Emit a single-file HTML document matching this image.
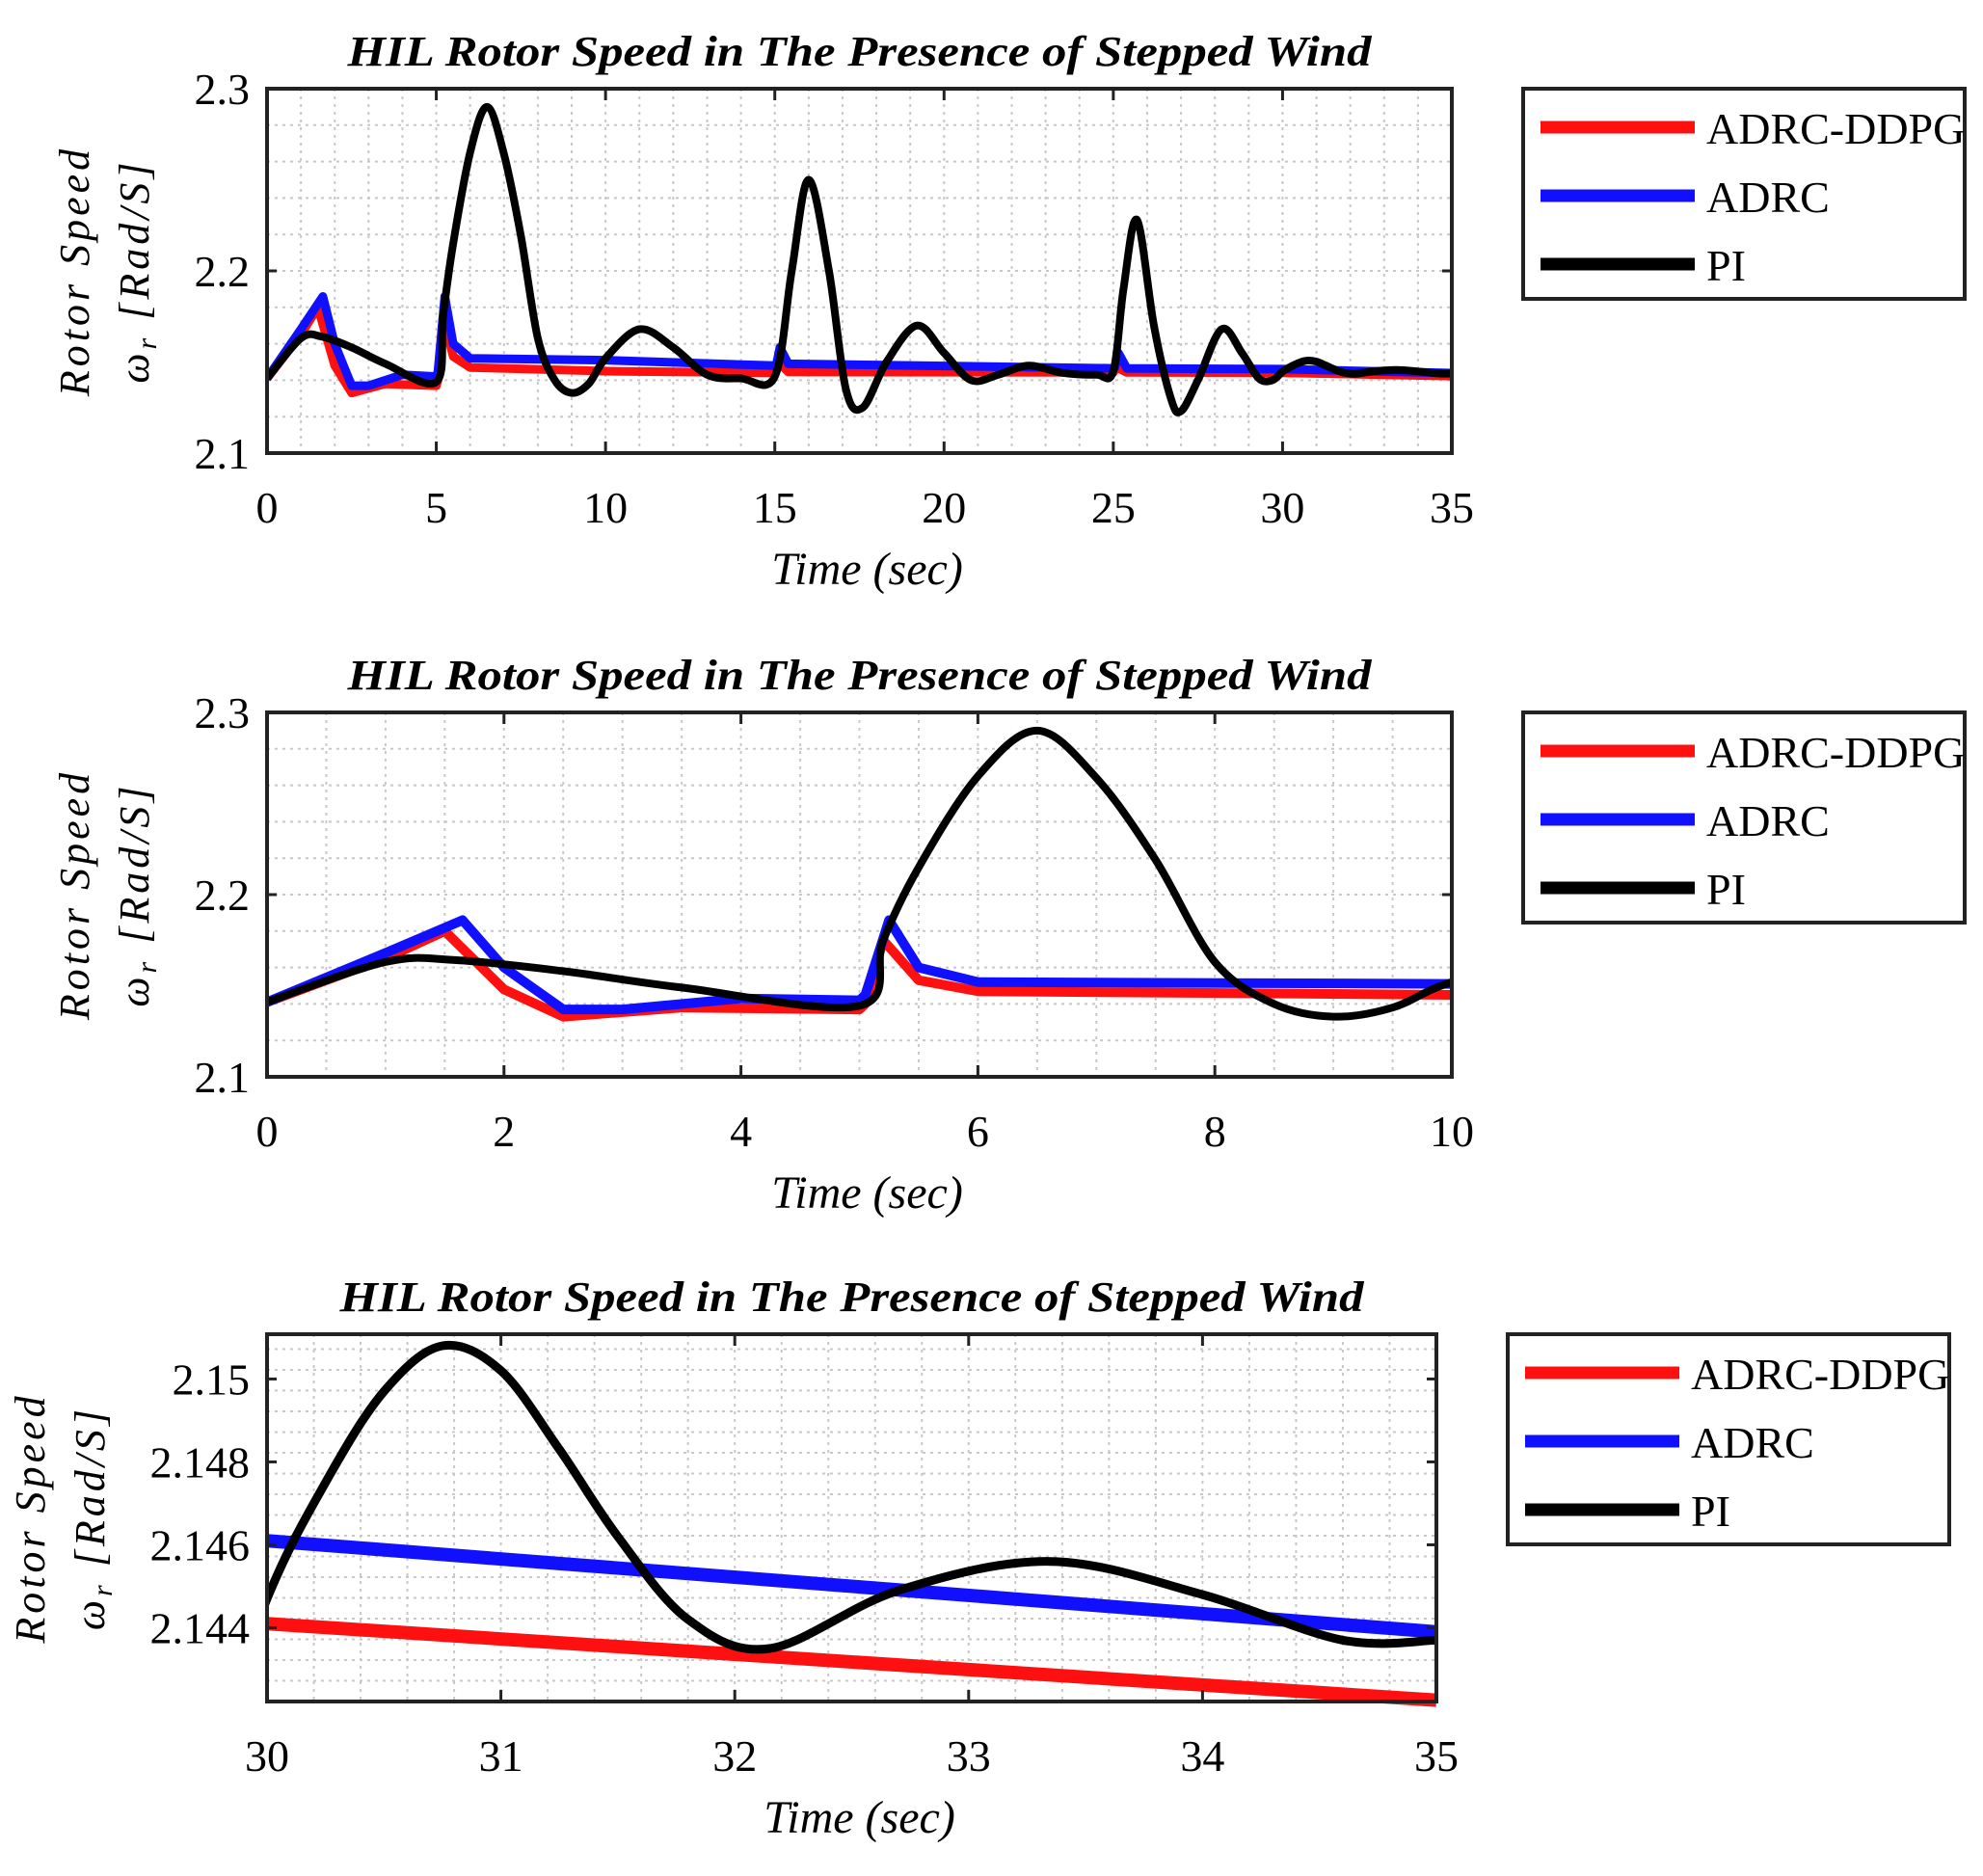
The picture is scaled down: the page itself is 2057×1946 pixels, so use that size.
<!DOCTYPE html>
<html><head><meta charset="utf-8">
<style>
html,body{margin:0;padding:0;background:#fff;overflow:hidden;width:2057px;height:1946px;}
svg{display:block;}
text{font-family:"Liberation Serif","DejaVu Serif",serif;}
</style></head>
<body>
<svg id="fig" width="2057" height="1946" viewBox="0 0 2057 1946" xmlns="http://www.w3.org/2000/svg"></svg>
<script>
// ---- data (time in s, rotor speed in rad/s) ----
const piT   = [0,1,1.6,2.5,3.5,5,5.2,5.5,6,6.5,7,7.5,8,8.5,9,9.5,10,11,12,13,14,15,15.5,16,16.6,17.1,17.6,18.3,19.2,20,20.8,21.6,22.5,23.5,24.5,25,25.3,25.7,26.2,26.7,27,27.5,28.2,28.8,29.3,29.7,30,30.25,30.5,30.75,31,31.25,31.5,31.8,32.15,32.7,33.35,34,34.6,35];
const piV   = [2.141,2.163,2.164,2.158,2.149,2.139,2.175,2.215,2.265,2.29,2.264,2.219,2.163,2.14,2.133,2.138,2.152,2.168,2.158,2.143,2.141,2.142,2.2,2.25,2.2,2.135,2.125,2.15,2.17,2.155,2.14,2.143,2.148,2.144,2.143,2.145,2.19,2.228,2.17,2.13,2.123,2.14,2.168,2.155,2.141,2.14,2.1447,2.1475,2.1497,2.1508,2.1502,2.1483,2.1462,2.1442,2.1435,2.1449,2.1456,2.1448,2.1437,2.1437];
const adrcT = [0,1,1.65,2,2.5,3,4,5,5.05,5.25,5.5,6,10,15,15.05,15.15,15.4,25,25.05,25.15,25.4,30,35];
const adrcV = [2.141,2.168,2.186,2.16,2.137,2.137,2.143,2.142,2.145,2.186,2.16,2.152,2.151,2.148,2.149,2.158,2.149,2.1465,2.147,2.155,2.1465,2.1461,2.1439];
const ddpgT = [0,1,1.5,2,2.5,3.5,5,5.05,5.2,5.5,6,10,15,15.1,15.4,25,25.1,25.4,30,35];
const ddpgV = [2.141,2.165,2.18,2.148,2.133,2.138,2.137,2.14,2.175,2.153,2.147,2.145,2.144,2.15,2.1445,2.1443,2.147,2.1443,2.1441,2.14225];
const legendLabels = ["ADRC-DDPG","ADRC","PI"];
const p1XTicks=[0,5,10,15,20,25,30,35], p1YTicks=[2.1,2.2,2.3];
const p2XTicks=[0,2,4,6,8,10],          p2YTicks=[2.1,2.2,2.3];
const p3XTicks=[30,31,32,33,34,35],     p3YTicks=[2.144,2.146,2.148,2.15];

const NS="http://www.w3.org/2000/svg";
const svg=document.getElementById('fig');
function mk(tag,attrs,parent){const e=document.createElementNS(NS,tag);for(const k in attrs)e.setAttribute(k,attrs[k]);(parent||svg).appendChild(e);return e;}

function crPath(T,V,sx,sy,smooth){
  let pts=T.map((t,i)=>[sx(t),sy(V[i])]);
  if(!smooth) return 'M'+pts.map(p=>p[0].toFixed(1)+','+p[1].toFixed(1)).join('L');
  let d='M'+pts[0][0].toFixed(1)+','+pts[0][1].toFixed(1);
  for(let i=0;i<pts.length-1;i++){
    const p0=pts[Math.max(0,i-1)],p1=pts[i],p2=pts[i+1],p3=pts[Math.min(pts.length-1,i+2)];
    const c1=[p1[0]+(p2[0]-p0[0])/6,p1[1]+(p2[1]-p0[1])/6];
    const c2=[p2[0]-(p3[0]-p1[0])/6,p2[1]-(p3[1]-p1[1])/6];
    d+='C'+c1.map(v=>v.toFixed(1))+' '+c2.map(v=>v.toFixed(1))+' '+p2.map(v=>v.toFixed(1));
  }
  return d;
}

function panel(o){
  const g=mk('g',{});
  
  
  const sx=t=>o.L+(t-o.x0)/(o.x1-o.x0)*(o.R-o.L);
  const sy=v=>o.B-(v-o.y0)/(o.y1-o.y0)*(o.B-o.T);
  const tt=mk('text',{x:(o.L+o.R)/2,y:o.T-24,'text-anchor':'middle','font-size':44,'font-weight':'bold','font-style':'italic',textLength:1062,lengthAdjust:'spacingAndGlyphs'},g);
  tt.textContent="HIL Rotor Speed in The Presence of Stepped Wind";
  
  
  const grid=mk('g',{stroke:'#c8c8c8','stroke-width':2,'stroke-dasharray':'3,5'},g);
  
  
  for(let k=1;;k++){const t=o.x0+k*o.xm; if(t>=o.x1-1e-9)break; mk('line',{x1:sx(t),x2:sx(t),y1:o.T,y2:o.B},grid);}
  for(let k=1;;k++){const v=o.y0+k*o.ym; if(v>=o.y1-1e-9)break; mk('line',{x1:o.L,x2:o.R,y1:sy(v),y2:sy(v)},grid);}
  const cid='clip'+o.name;
  const cp=mk('clipPath',{id:cid},g); mk('rect',{x:o.L,y:o.T-6,width:o.R-o.L,height:o.B-o.T+12},cp);
  const series=[[ddpgT,ddpgV,'#ff1010',o.lw,'adrc-ddpg-line',false],[adrcT,adrcV,'#1010ff',o.lw,'adrc-line',false],[piT,piV,'#000',o.lwk,'pi-line',true]];
  series.forEach(s=>{
    const p=mk('path',{d:crPath(s[0],s[1],sx,sy,s[5]),fill:'none',stroke:s[2],'stroke-width':s[3],'stroke-linejoin':'round','clip-path':'url(#'+cid+')'},g);
    
    
  });
  const fr=mk('rect',{x:o.L,y:o.T,width:o.R-o.L,height:o.B-o.T,fill:'none',stroke:'#222','stroke-width':4},g);
  
  
  o.xt.forEach(t=>{
    mk('line',{x1:sx(t),x2:sx(t),y1:o.B,y2:o.B-12,stroke:'#222','stroke-width':3},g);
    mk('line',{x1:sx(t),x2:sx(t),y1:o.T,y2:o.T+12,stroke:'#222','stroke-width':3},g);
    const tx=mk('text',{x:sx(t),y:o.B+72,'text-anchor':'middle','font-size':46},g);
    tx.textContent=String(t);
    
    
  });
  o.yt.forEach(v=>{
    mk('line',{x1:o.L,x2:o.L+10,y1:sy(v),y2:sy(v),stroke:'#222','stroke-width':3},g);
    mk('line',{x1:o.R,x2:o.R-10,y1:sy(v),y2:sy(v),stroke:'#222','stroke-width':3},g);
    const ty=mk('text',{x:o.L-18,y:sy(v)+16,'text-anchor':'end','font-size':46},g);
    ty.textContent=String(v);
    
    
  });
  const xl=mk('text',{x:(o.L+o.R)/2+8,y:o.B+136,'text-anchor':'middle','font-size':48,'font-style':'italic'},g);
  xl.textContent="Time (sec)";
  
  
  const cy=(o.T+o.B)/2;
  const yl1=mk('text',{transform:`translate(${o.yl1},${cy}) rotate(-90)`,'text-anchor':'middle','font-size':44,'font-style':'italic','letter-spacing':4},g);
  yl1.textContent="Rotor Speed";
  
  
  const yl2=mk('text',{transform:`translate(${o.yl1+62},${cy}) rotate(-90)`,'text-anchor':'middle','font-size':44,'font-style':'italic','letter-spacing':4},g);
  yl2.innerHTML='ω<tspan font-size="30" dy="8">r</tspan><tspan dy="-8"> [Rad/S]</tspan>';
  
  
  const lg=mk('g',{},g);
  
  
  mk('rect',{x:o.lx,y:o.T,width:458,height:218,fill:'#fff',stroke:'#222','stroke-width':4},lg);
  const cols=['#ff1010','#1010ff','#000'];
  legendLabels.forEach((lab,i)=>{
    const yy=o.T+40+i*71;
    mk('line',{x1:o.lx+18,x2:o.lx+178,y1:yy,y2:yy,stroke:cols[i],'stroke-width':13},lg);
    const lt=mk('text',{x:o.lx+190,y:yy+17,'font-size':46},lg);
    lt.textContent=lab;
    
    
  });
}

panel({name:'panel-full',L:277,R:1506,T:92,B:470,x0:0,x1:35,y0:2.1,y1:2.3,xm:1,ym:0.02,xt:p1XTicks,yt:p1YTicks,lw:9,lwk:8,lx:1580,yl1:92});
panel({name:'panel-zoom-start',L:277,R:1506,T:739,B:1117,x0:0,x1:10,y0:2.1,y1:2.3,xm:0.5,ym:0.02,xt:p2XTicks,yt:p2YTicks,lw:10,lwk:8,lx:1580,yl1:92});
panel({name:'panel-zoom-end',L:277,R:1490,T:1384,B:1765,x0:30,x1:35,y0:2.14222,y1:2.15108,xm:0.2,ym:0.0005,xt:p3XTicks,yt:p3YTicks,lw:14,lwk:9,lx:1564,yl1:46});
</script>
</body></html>
